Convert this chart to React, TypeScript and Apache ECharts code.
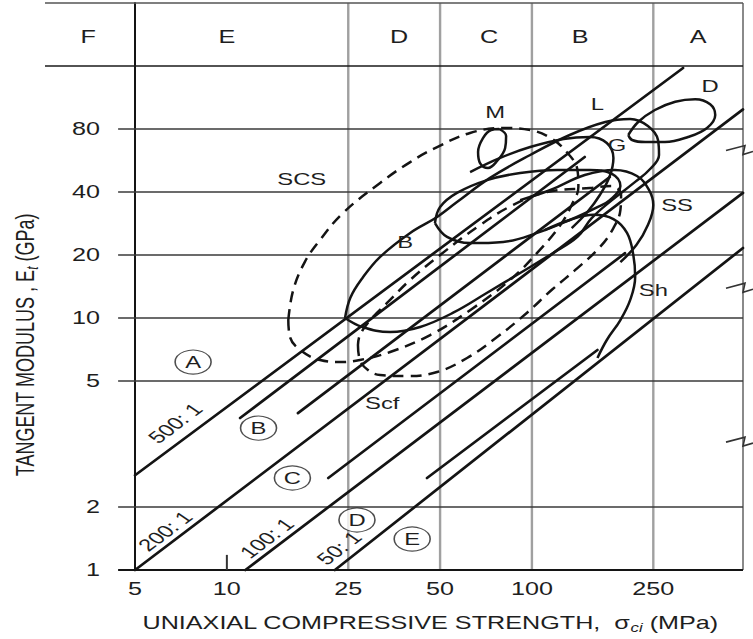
import React, { useEffect, useRef } from "react";
import * as echarts from "echarts";

// ---------- axes ----------
const strengthTickLabels = [5, 10, 25, 50, 100, 250];
const strengthGridLines = [25, 50, 100, 250];
const strengthMinorTicks = [10];
const modulusTickLabels = [1, 2, 5, 10, 20, 40, 80];
const modulusGridLines = [2, 5, 10, 20, 40, 80];
// the printed modulus scale is not uniform: 2 -> 5 takes two steps
const modulusBreaks = [1, 2, 5, 10, 20, 40, 80, 160];
const modulusBreakUnits = [0, 1, 3, 4, 5, 6, 7, 8];
const strengthMin = 2.534;
const strengthMax = 492;
const tickStartStrength = 4.4;
const unitMax = 9;
const headerBottomUnit = 8;

// ---------- header zones ----------
const zoneLetters = ["F", "E", "D", "C", "B", "A"];
const zoneLabelStrength = [3.51, 10, 36.7, 72.4, 144, 351];
const zoneLabelUnit = 8.46;

// ---------- modulus ratio lines [strength MPa, modulus GPa] ----------
const ratio500 = [[5, 2.52], [313, 156.5]];
const ratio200 = [[5, 1], [492, 99.2]];
const ratio100 = [[11.5, 1], [492, 39.6]];
const ratio50 = [[22.6, 1], [492, 21.6]];
const bandSide1 = [[11.05, 3.82], [149, 58.8]];
const bandSide2 = [[17.1, 3.96], [180, 47.2]];
const bandSide3 = [[21.5, 2.47], [202, 20.4]];
const bandSide4 = [[45.3, 2.47], [164, 7.03]];

const ratioLabels = ["500: 1", "200: 1", "100: 1", "50: 1"];
const ratioLabelPos = [[6.76, 3.68], [6.27, 1.536], [13.5, 1.422], [23.3, 1.274]];

// ---------- rock envelopes ----------
const envM = [[78.1, 80.0], [82.3, 74.1], [81.7, 64.9], [76.9, 56.3], [71.8, 52.1], [67.6, 55.0], [66.6, 62.1], [69.2, 72.5], [73.5, 79.1], [78.1, 80.0]];
const envD = [[207, 74.9], [223, 86.4], [253, 98.6], [295, 108], [343, 111], [384, 105], [399, 93.3], [375, 80.9], [325, 73.3], [273, 69.3], [235, 69.3], [213, 70.9], [207, 74.9]];
const envSCS = [[15.9, 9.78], [16.5, 13.6], [18.0, 18.5], [20.2, 23.6], [24.0, 31.7], [31.8, 44.2], [39.9, 55.6], [48.9, 65.6], [62.7, 76.6], [80.5, 80.9], [98.7, 79.1], [115, 72.5], [130, 62.1], [141, 51.0], [142, 42.3], [135, 34.7], [124, 27.8], [106, 21.1], [84.8, 15.2], [62.7, 10.9], [46.4, 8.29], [34.3, 6.88], [27.3, 6.30], [24.0, 6.16], [20.2, 6.30], [17.4, 7.03], [16.1, 8.11], [15.9, 9.78]];
const envScf = [[26.9, 7.43], [27.3, 6.30], [29.0, 5.64], [31.8, 5.34], [39.0, 5.28], [48.9, 5.52], [61.3, 6.44], [76.9, 8.11], [96.4, 10.6], [116, 13.6], [141, 17.3], [167, 21.8], [185, 26.9], [195, 32.8], [196, 38.7], [183, 42.7], [155, 41.8], [112, 40], [86.8, 34.7], [67.6, 27.8], [50, 20], [39.9, 15.2], [33.5, 11.8], [29.5, 9.78], [27.3, 8.29], [26.9, 7.43]];
const envL = [[24.4, 10], [25.4, 12.5], [27.8, 15.5], [31.8, 19.6], [39.9, 25.5], [48.9, 30.4], [56.8, 35.8], [72.9, 46.7], [98.7, 60.1], [133, 74.9], [174, 86.4], [210, 89.3], [240, 82.7], [259, 70.9], [261, 60.1], [244, 51.5], [218, 44.7], [183, 36.6], [157, 30.0], [141, 24.4], [117, 20.4], [91.5, 16.4], [71.3, 13.2], [55.2, 10.6], [43.0, 9.06], [34.3, 8.57], [27.8, 9.06], [24.4, 10]];
const envGOval = [[48.1, 28.4], [50, 33.9], [56.8, 39.6], [71.3, 45.6], [91.5, 49.3], [121, 51.0], [155, 51.0], [183, 48.8], [195, 42.7], [180, 36.6], [164, 33.9], [133, 29.4], [104, 25.5], [80.5, 23.1], [62.7, 22.8], [52.7, 24.4], [48.1, 28.4]];
const arcG = [[62.7, 49.8], [78.7, 58.2], [98.7, 65.6], [127, 71.7], [155, 73.3], [176, 68.6], [185, 58.2], [180, 47.7], [167, 38.7], [152, 32.1], [135, 26.9]];
const arcSS = [[91.5, 36.6], [115, 40.9], [149, 48.2], [187, 51.0], [221, 47.7], [242, 40.9], [250, 34.7], [240, 27.8], [220, 22.3], [195, 18.5]];
const arcSh = [[110, 26.3], [133, 29.4], [159, 31.1], [185, 29.7], [205, 25.5], [215, 20], [218, 15.7], [210, 12.2], [195, 9.78], [176, 7.85], [164, 6.44]];

const rockLabels = ["M", "L", "D", "G", "SCS", "B", "SS", "Sh", "Scf"];
const rockLabelPos = [[75.7, 96.5], [164, 105], [384, 128], [190, 67.1], [17.6, 46.2], [38.4, 23.1], [299, 34.7], [250, 13.6], [32.3, 4.26]];

const classLetters = ["A", "B", "C", "D", "E"];
const classLetterPos = [[7.75, 6.16], [12.7, 3.55], [16.4, 2.47], [26.7, 1.734], [40.5, 1.406]];

// axis-break marks on the right frame, as modulus values
const breakMarkModulus = [66, 14.5, 3.3];

// ---------- helpers ----------
function uOf(E: number): number {
  const b = modulusBreaks;
  const u = modulusBreakUnits;
  let i = 0;
  while (i < b.length - 2 && E > b[i + 1]) i++;
  return u[i] + ((u[i + 1] - u[i]) * Math.log(E / b[i])) / Math.log(b[i + 1] / b[i]);
}
const toXY = (pts: number[][]) => pts.map(([s, e]) => [s, uOf(e)]);
const INK = "#141414";
const FONT = '"Liberation Sans", Arial, sans-serif';

function seg(name: string, data: number[][], color: string, width: number, z: number, extra: any = {}) {
  return {
    type: "line",
    name,
    data,
    symbol: "none",
    showSymbol: false,
    silent: true,
    clip: false,
    z,
    smooth: extra.smooth || 0,
    lineStyle: { color, width, type: extra.dash || "solid", cap: extra.cap || "round", join: "round" },
    animation: false,
  };
}

function textEl(x: number, y: number, text: string, o: any = {}) {
  return {
    type: "text",
    x,
    y,
    rotation: o.rot || 0,
    scaleX: o.sx == null ? 1.4 : o.sx,
    scaleY: o.sy == null ? 1 : o.sy,
    silent: true,
    z: 50,
    style: {
      text,
      x: 0,
      y: 0,
      fontSize: o.size || 17,
      fontFamily: FONT,
      fill: "#1e1e1e",
      align: o.align || "center",
      verticalAlign: "middle",
      textAlign: o.align || "center",
      textVerticalAlign: "middle",
      rich: o.rich,
    },
  };
}

export default function App() {
  const ref = useRef<HTMLDivElement>(null);
  useEffect(() => {
    const el = ref.current;
    if (!el) return;
    const chart = echarts.init(el, undefined, { renderer: "svg" });
    const series: any[] = [];
    strengthGridLines.forEach((s) => series.push(seg("grid " + s, [[s, 0], [s, unitMax]], "#a0a0a0", 2.4, 1, { cap: "butt" })));
    series.push(seg("right edge", [[strengthMax, 0], [strengthMax, unitMax]], "#8a8a8a", 2, 1, { cap: "butt" }));
    modulusGridLines.forEach((E) =>
      series.push(seg("grid E" + E, [[tickStartStrength, uOf(E)], [strengthMax, uOf(E)]], "#3a3a3a", 1.5, 2, { cap: "butt" }))
    );
    series.push(seg("header bottom", [[strengthMin, headerBottomUnit], [strengthMax, headerBottomUnit]], "#1a1a1a", 1.7, 2, { cap: "butt" }));
    series.push(seg("header top", [[strengthMin, unitMax], [strengthMax, unitMax]], "#555", 1.6, 2, { cap: "butt" }));
    series.push(seg("x axis", [[tickStartStrength, 0], [strengthMax, 0]], INK, 2, 3, { cap: "butt" }));
    strengthMinorTicks.forEach((s) => series.push(seg("tick " + s, [[s, 0], [s, 0.24]], "#333", 2, 3, { cap: "butt" })));

    [ratio500, ratio200, ratio100, ratio50, bandSide1, bandSide2, bandSide3, bandSide4].forEach((l, i) =>
      series.push(seg("ratio " + i, toXY(l), INK, 2.7, 5))
    );
    const curves: [string, number[][], boolean][] = [
      ["M", envM, false],
      ["D", envD, false],
      ["L", envL, false],
      ["G oval", envGOval, false],
      ["G", arcG, false],
      ["SS", arcSS, false],
      ["Sh", arcSh, false],
      ["SCS", envSCS, true],
      ["Scf", envScf, true],
    ];
    curves.forEach(([n, pts, dashed]) =>
      series.push(seg("env " + n, toXY(pts), INK, 2.5, 6, { smooth: 0.4, dash: dashed ? [11, 7] : "solid", cap: "butt" }))
    );
    series.push({
      type: "scatter",
      name: "classes",
      data: toXY(classLetterPos),
      symbol: "circle",
      symbolSize: [36, 24],
      itemStyle: { color: "#ffffff", borderColor: "#222", borderWidth: 1.3 },
      z: 8,
      silent: true,
      animation: false,
    });

    chart.setOption({
      animation: false,
      textStyle: { fontFamily: FONT },
      grid: { left: 45, right: 10, top: 3, bottom: 69 },
      xAxis: {
        type: "log",
        min: strengthMin,
        max: strengthMax,
        axisLine: { show: false },
        axisTick: { show: false },
        axisLabel: { show: false },
        splitLine: { show: false },
      },
      yAxis: {
        type: "value",
        min: 0,
        max: unitMax,
        interval: 1,
        offset: -90,
        axisLine: { show: true, lineStyle: { color: INK, width: 2 } },
        axisTick: { show: false },
        axisLabel: { show: false },
        splitLine: { show: false },
      },
      series,
    });

    const px = (s: number, u: number) => chart.convertToPixel({ gridIndex: 0 }, [s, u]) as number[];
    const g: any[] = [];
    strengthTickLabels.forEach((s) => {
      const p = px(s, 0);
      g.push(textEl(p[0], p[1] + 19, String(s), { size: 18 }));
    });
    modulusTickLabels.forEach((E) => {
      const p = px(5, uOf(E));
      g.push(textEl(p[0] - 35, p[1], String(E), { size: 18, align: "right" }));
    });
    zoneLetters.forEach((t, i) => {
      const p = px(zoneLabelStrength[i], zoneLabelUnit);
      g.push(textEl(p[0], p[1], t, { size: 18 }));
    });
    rockLabels.forEach((t, i) => {
      const p = px(rockLabelPos[i][0], uOf(rockLabelPos[i][1]));
      g.push(textEl(p[0], p[1], t, { size: 17 }));
    });
    classLetters.forEach((t, i) => {
      const p = px(classLetterPos[i][0], uOf(classLetterPos[i][1]));
      g.push(textEl(p[0], p[1], t, { size: 17 }));
    });
    ratioLabels.forEach((t, i) => {
      const p = px(ratioLabelPos[i][0], uOf(ratioLabelPos[i][1]));
      g.push({
        type: "group",
        x: p[0],
        y: p[1],
        scaleX: 1.4,
        silent: true,
        z: 50,
        children: [textEl(0, 0, t, { size: 17, sx: 1, rot: 0.813 })],
      });
    });
    breakMarkModulus.forEach((E) => {
      const p = px(strengthMax, uOf(E));
      g.push({
        type: "polyline",
        x: p[0],
        y: p[1],
        silent: true,
        z: 40,
        shape: { points: [[-17, 4], [2, -1], [0, 8], [10, 5]] },
        style: { stroke: "#333", lineWidth: 1.6, fill: null },
      });
    });
    const sub = { fontSize: 12, fontStyle: "italic", fontFamily: FONT, fill: "#1e1e1e", padding: [10, 0, 0, 0] };
    const main = { fontSize: 18, fontFamily: FONT, fill: "#1e1e1e" };
    g.push(
      textEl(430, 623, "{a|UNIAXIAL COMPRESSIVE STRENGTH,  σ}{b|ci}{a| (MPa)}", {
        size: 18,
        rich: { a: main, b: sub },
      })
    );
    g.push(
      textEl(25, 345, "{a|TANGENT MODULUS , E}{b|t}{a| (GPa)}", {
        size: 18,
        rot: Math.PI / 2,
        sx: 1,
        sy: 1.4,
        rich: { a: main, b: sub },
      })
    );
    chart.setOption({ graphic: g });
    return () => chart.dispose();
  }, []);
  return <div ref={ref} style={{ position: "fixed", left: 0, top: 0, width: 753, height: 639, background: "#fff" }} />;
}
